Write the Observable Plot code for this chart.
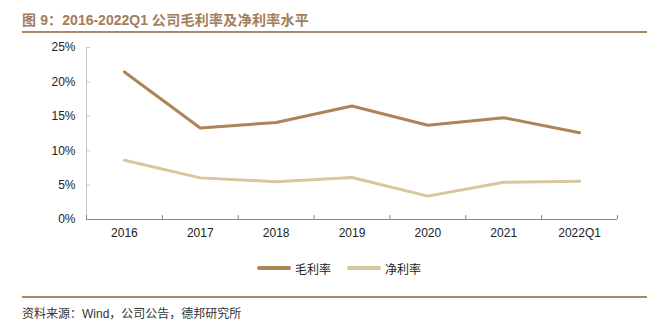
<!DOCTYPE html>
<html>
<head>
<meta charset="utf-8">
<script src="https://cdn.jsdelivr.net/npm/d3@7"></script>
<script src="https://cdn.jsdelivr.net/npm/@observablehq/plot@0.6"></script>
<style>
  html, body { margin: 0; padding: 0; background: #fff; }
  #wrap { position: relative; width: 665px; height: 326px; overflow: hidden; font-family: "Liberation Sans", Arial, "Noto Sans CJK SC", sans-serif; }
  #title { position: absolute; left: 22px; top: 9px; font-size: 14px; font-weight: bold; color: #A27D5B; white-space: nowrap; }
  #title .cjk { font-family: "Noto Sans CJK SC", sans-serif; letter-spacing: 0.3px; }
  #rule1 { position: absolute; left: 22px; top: 31px; width: 625px; height: 2px; background: #A88866; }
  #chart { position: absolute; left: 0; top: 0; }
  #legend { position: absolute; top: 260px; left: 257px; height: 16px; display: flex; align-items: center; font-family: "Noto Sans CJK SC", sans-serif; font-size: 12px; color: #222; white-space: nowrap; }
  .sw { display: inline-block; width: 34px; height: 4px; border-radius: 2px; margin-right: 4px; }
  .item { display: flex; align-items: center; margin-right: 16px; }
  #rule2 { position: absolute; left: 22px; top: 296px; width: 625px; height: 2px; background: #A88866; }
  #source { position: absolute; left: 22px; top: 304px; font-size: 12px; color: #333; font-family: "Noto Sans CJK SC", sans-serif; white-space: nowrap; }
  #source .lat { font-family: "Liberation Sans", Arial, sans-serif; }
</style>
</head>
<body>
<div id="wrap">
  <div id="title"><span class="cjk">图</span> 9<span class="cjk">：</span>2016-2022Q1 <span class="cjk">公司毛利率及净利率水平</span></div>
  <div id="rule1"></div>
  <div id="chart"></div>
  <div id="legend"></div>
  <div id="rule2"></div>
  <div id="source">资料来源：<span class="lat">Wind</span>，公司公告，德邦研究所</div>
</div>
<script>
// Data (percent)
const years = ["2016", "2017", "2018", "2019", "2020", "2021", "2022Q1"];
const grossMargin = [21.45, 13.3, 14.1, 16.5, 13.7, 14.8, 12.6];
const netMargin = [8.6, 6.05, 5.5, 6.1, 3.4, 5.4, 5.55];
const yTicks = [0, 5, 10, 15, 20, 25];
const seriesNames = ["毛利率", "净利率"];
const seriesColors = ["#AD8458", "#D9C69C"];

const rows = years.map((y, i) => ({ idx: i + 0.5, year: y, gross: grossMargin[i], net: netMargin[i] }));
const boundaries = d3.range(0, years.length + 1);
const centers = years.map((_, i) => i + 0.5);

const chart = Plot.plot({
  width: 665,
  height: 245,
  marginLeft: 86,
  marginRight: 48,
  marginTop: 47,
  marginBottom: 26,
  style: { fontFamily: "'Liberation Sans', Arial, sans-serif", fontSize: "12px", color: "#222", background: "transparent" },
  x: { type: "linear", domain: [0, years.length], label: null },
  y: { domain: [0, 25], label: null },
  marks: [
    Plot.ruleX([0], { stroke: "#c8c8c8", strokeWidth: 1 }),
    Plot.axisY({ ticks: yTicks, tickSize: -4, tickFormat: () => "", stroke: "#c8c8c8", label: null }),
    Plot.axisY({ ticks: yTicks, tickSize: 0, tickPadding: 11, tickFormat: d => d + "%", fill: "#222", fontSize: 12, label: null }),
    Plot.ruleY([0], { stroke: "#8a8a8a", strokeWidth: 1 }),
    Plot.axisX({ ticks: boundaries, tickSize: -4, tickFormat: () => "", stroke: "#8a8a8a", label: null }),
    Plot.axisX({ ticks: centers, tickSize: 0, tickPadding: 9, tickFormat: d => years[Math.round(d - 0.5)], fill: "#222", fontSize: 12, label: null }),
    Plot.lineY(rows, { x: "idx", y: "gross", stroke: seriesColors[0], strokeWidth: 3, strokeLinecap: "round", strokeLinejoin: "miter" }),
    Plot.lineY(rows, { x: "idx", y: "net", stroke: seriesColors[1], strokeWidth: 3, strokeLinecap: "round", strokeLinejoin: "miter" })
  ]
});
document.getElementById("chart").appendChild(chart);

const legend = document.getElementById("legend");
seriesNames.forEach((name, i) => {
  const item = document.createElement("span");
  item.className = "item";
  const sw = document.createElement("span");
  sw.className = "sw";
  sw.style.background = seriesColors[i];
  item.appendChild(sw);
  item.appendChild(document.createTextNode(name));
  legend.appendChild(item);
});
</script>
</body>
</html>
